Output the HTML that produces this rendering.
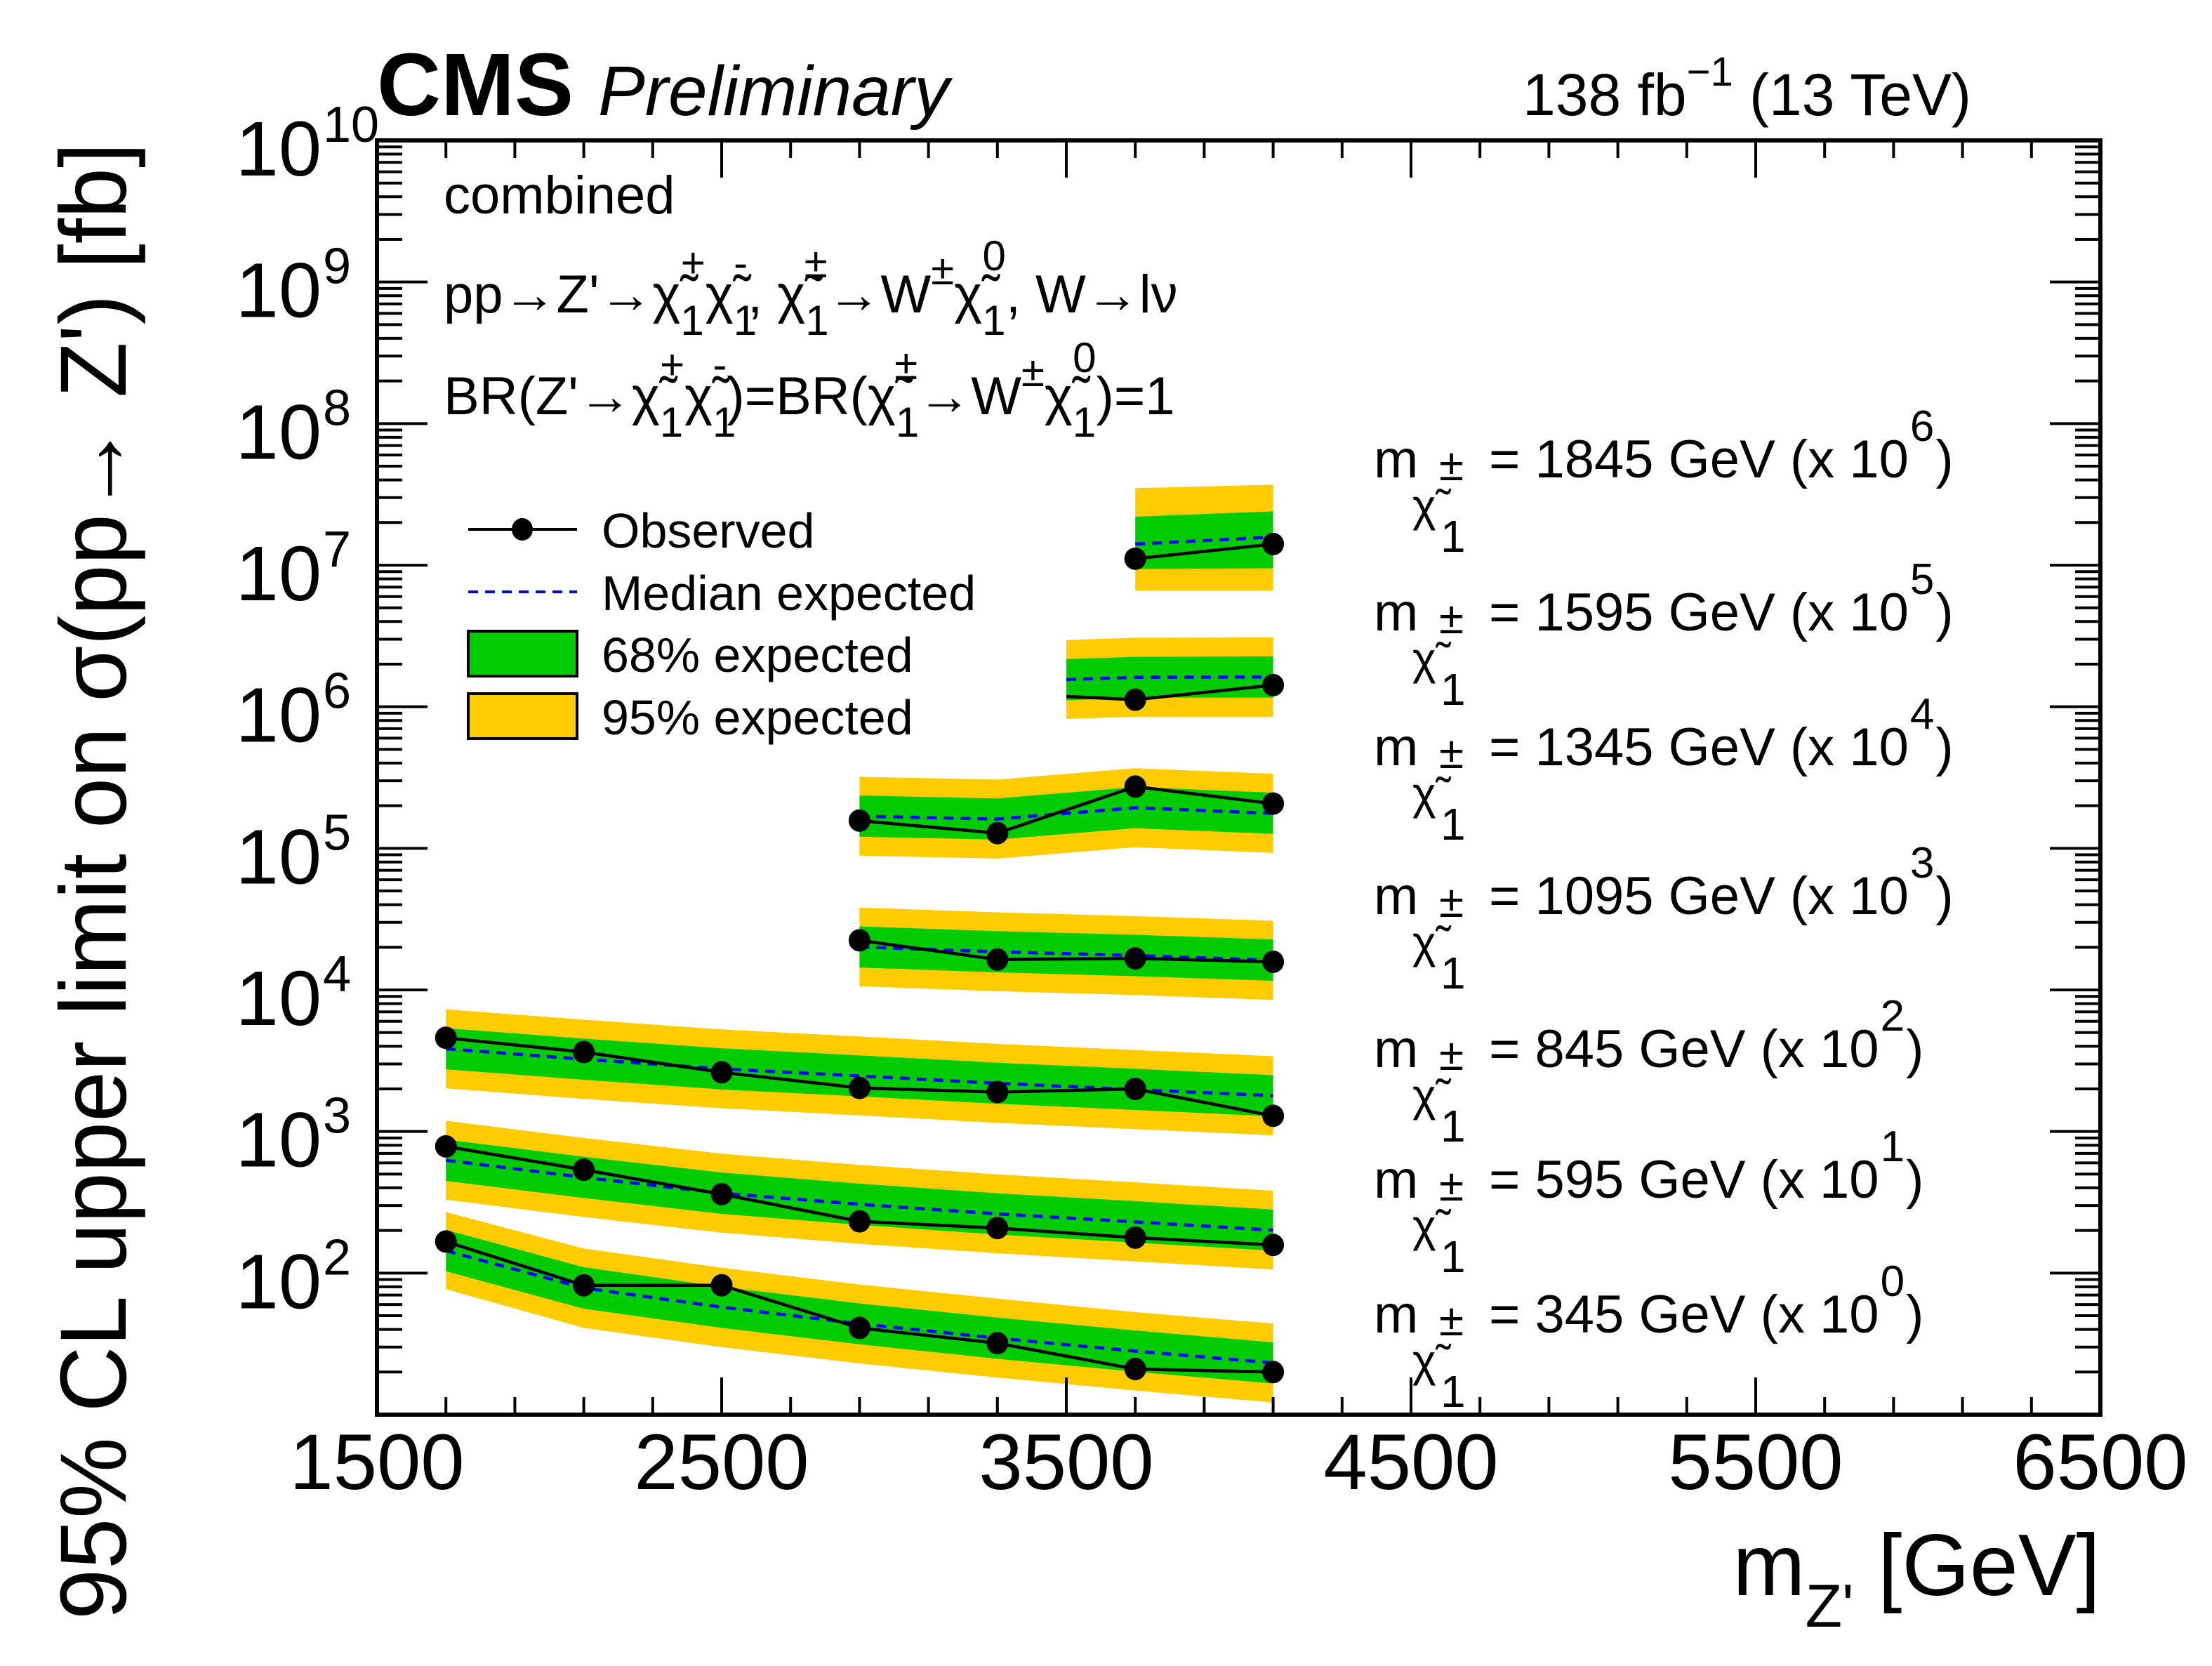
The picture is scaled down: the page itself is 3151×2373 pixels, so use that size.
<!DOCTYPE html>
<html><head><meta charset="utf-8"><style>
html,body{margin:0;padding:0;background:#fff;}
svg{display:block;font-family:"Liberation Sans",Arial,sans-serif;}
</style></head><body>
<svg id="chart" xmlns="http://www.w3.org/2000/svg" width="3151" height="2373" viewBox="0 0 3151 2373">
<rect x="0" y="0" width="3151" height="2373" fill="#fff"/>
<g id="bands"></g>
<g id="lines"></g>
<g id="axes"></g>
<g id="texts" fill="#000">
<text x="537" y="164" font-size="126" font-weight="bold">CMS</text>
<text x="852" y="164" font-size="100" font-style="italic">Preliminary</text>
<text x="2808" y="164" font-size="84" text-anchor="end">138 fb<tspan dy="-42" font-size="58">−1</tspan><tspan dy="42"> (13 TeV)</tspan></text>
<text x="632" y="304" font-size="76">combined</text>
<text x="632" y="445" font-size="76">pp→Z'→χ̃<tspan dy="32" font-size="60">1</tspan><tspan dx="-33" dy="-82" font-size="60">+</tspan><tspan dy="50">χ̃</tspan><tspan dy="32" font-size="60">1</tspan><tspan dx="-33" dy="-82" font-size="60">-</tspan><tspan dy="50">, χ̃</tspan><tspan dy="32" font-size="60">1</tspan><tspan dx="-35" dy="-82" font-size="60">±</tspan><tspan dy="50">→W</tspan><tspan dy="-40" font-size="60">±</tspan><tspan dy="40">χ̃</tspan><tspan dy="32" font-size="60">1</tspan><tspan dx="-33" dy="-92" font-size="60">0</tspan><tspan dy="60">, W→lν</tspan></text>
<text x="632" y="590" font-size="76">BR(Z'→χ̃<tspan dy="32" font-size="60">1</tspan><tspan dx="-33" dy="-82" font-size="60">+</tspan><tspan dy="50">χ̃</tspan><tspan dy="32" font-size="60">1</tspan><tspan dx="-33" dy="-82" font-size="60">-</tspan><tspan dy="50">)=BR(χ̃</tspan><tspan dy="32" font-size="60">1</tspan><tspan dx="-35" dy="-82" font-size="60">±</tspan><tspan dy="50">→W</tspan><tspan dy="-40" font-size="60">±</tspan><tspan dy="40">χ̃</tspan><tspan dy="32" font-size="60">1</tspan><tspan dx="-33" dy="-92" font-size="60">0</tspan><tspan dy="60">)=1</tspan></text>
<g>
<g>
<line x1="667" y1="754" x2="822" y2="754" stroke="#000" stroke-width="4"/>
<ellipse cx="744" cy="754" rx="15" ry="16" fill="#000"/>
<text x="857" y="780" font-size="70">Observed</text></g>
<g>
<line x1="667" y1="843" x2="822" y2="843" stroke="#0000ff" stroke-width="4" stroke-dasharray="14,10"/>
<text x="857" y="869" font-size="70">Median expected</text></g>
<g>
<rect x="667" y="899" width="155" height="64" fill="#00cc00" stroke="#000" stroke-width="4"/>
<text x="857" y="957" font-size="70">68% expected</text></g>
<g>
<rect x="667" y="988" width="155" height="64" fill="#ffcc00" stroke="#000" stroke-width="4"/>
<text x="857" y="1046" font-size="70">95% expected</text></g>
</g>
<text transform="translate(179,2307) rotate(-90)" font-size="134" textLength="2104" lengthAdjust="spacingAndGlyphs">95% CL upper limit on σ(pp→ Z') [fb]</text>
<text x="2992" y="2272" font-size="124" text-anchor="end">m<tspan dy="45" font-size="86">Z'</tspan><tspan dy="-45"> [GeV]</tspan></text>
</g>
<g id="masslabels"></g>
</svg>
<script>
// ---- data ----
const massLabels = ["1845","1595","1345","1095","845","595","345"];
const scaleExp = [6,5,4,3,2,1,0];
const xTickLabels = ["1500","2500","3500","4500","5500","6500"];
const yTickExps = [2,3,4,5,6,7,8,9,10];

const x345 = [1700,2100,2500,2900,3300,3700,4100];
const obs345 = [167,82,82,41,32,21,20];
const exp345 = [144,78.5,57.5,43.9,34.7,28.1,23.2];
const g68hi345 = [202,110,80,61,48.5,39.3,32.4];
const g68lo345 = [103,56,41,31.4,24.8,20.1,16.6];
const y95hi345 = [270,149,109,83,66,53,44];
const y95lo345 = [77,41,30,23,18.3,14.8,12.2];

const x595 = [1700,2100,2500,2900,3300,3700,4100];
const obs595 = [785,537,361,232,208,178,158];
const exp595 = [627,474,367,306,262,230,201];
const g68hi595 = [877,663,513,428,366,322,281];
const g68lo595 = [448,339,262,219,187,164,144];
const y95hi595 = [1190,900,697,581,498,437,382];
const y95lo595 = [330,249,193,161,138,121,106];

const x845 = [1700,2100,2500,2900,3300,3700,4100];
const obs845 = [4590,3640,2620,2030,1900,2000,1290];
const exp845 = [3840,3240,2770,2470,2190,1980,1790];
const g68hi845 = [5370,4530,3870,3450,3060,2770,2500];
const g68lo845 = [2750,2320,1980,1770,1570,1420,1280];
const y95hi845 = [7300,6160,5260,4690,4160,3760,3400];
const y95lo845 = [2020,1700,1460,1300,1150,1040,940];

const x1095 = [2900,3300,3700,4100];
const obs1095 = [22400,16400,16700,15800];
const exp1095 = [20100,18600,17500,16200];
const g68hi1095 = [28100,26000,24500,22700];
const g68lo1095 = [14400,13300,12500,11600];
const y95hi1095 = [38200,35300,33200,30800];
const y95lo1095 = [10600,9800,9200,8500];

const x1345 = [2900,3300,3700,4100];
const obs1345 = [157000,128000,273000,207000];
const exp1345 = [168700,161000,193600,176600];
const g68hi1345 = [236000,225000,271000,247000];
const g68lo1345 = [120800,115300,138700,126500];
const y95hi1345 = [320000,306000,368000,336000];
const y95lo1345 = [88800,84700,101900,92900];

const x1595 = [3500,3700,4100];
const obs1595 = [1183000,1122000,1422000];
const exp1595 = [1556000,1614000,1622000];
const g68hi1595 = [2170000,2250000,2270000];
const g68lo1595 = [1110000,1160000,1160000];
const y95hi1595 = [2960000,3070000,3090000];
const y95lo1595 = [820000,850000,850000];
const mark1595 = [false,true,true];

const x1845 = [3700,4100];
const obs1845 = [11100000,14100000];
const exp1845 = [14100000,15800000];
const g68hi1845 = [22000000,24000000];
const g68lo1845 = [9400000,9500000];
const y95hi1845 = [35000000,37000000];
const y95lo1845 = [6600000,6600000];

// ---- axes ----
const L=537,R=2992,T=200,B=2015;
const XMIN=1500,XMAX=6500,LMIN=1,LMAX=10;
function sx(v){return L+(v-XMIN)/(XMAX-XMIN)*(R-L);}
function sy(v){return B-(Math.log10(v)-LMIN)/(LMAX-LMIN)*(B-T);}
const NS="http://www.w3.org/2000/svg";
function mk(tag,attrs,parent){const e=document.createElementNS(NS,tag);for(const k in attrs)e.setAttribute(k,attrs[k]);parent.appendChild(e);return e;}

const series=[
 {n:"345",x:x345,o:obs345,e:exp345,gh:g68hi345,gl:g68lo345,yh:y95hi345,yl:y95lo345},
 {n:"595",x:x595,o:obs595,e:exp595,gh:g68hi595,gl:g68lo595,yh:y95hi595,yl:y95lo595},
 {n:"845",x:x845,o:obs845,e:exp845,gh:g68hi845,gl:g68lo845,yh:y95hi845,yl:y95lo845},
 {n:"1095",x:x1095,o:obs1095,e:exp1095,gh:g68hi1095,gl:g68lo1095,yh:y95hi1095,yl:y95lo1095},
 {n:"1345",x:x1345,o:obs1345,e:exp1345,gh:g68hi1345,gl:g68lo1345,yh:y95hi1345,yl:y95lo1345},
 {n:"1595",x:x1595,o:obs1595,e:exp1595,gh:g68hi1595,gl:g68lo1595,yh:y95hi1595,yl:y95lo1595,m:mark1595},
 {n:"1845",x:x1845,o:obs1845,e:exp1845,gh:g68hi1845,gl:g68lo1845,yh:y95hi1845,yl:y95lo1845}
];
const gB=document.getElementById('bands'),gL=document.getElementById('lines'),gA=document.getElementById('axes');
function bandPts(xs,hi,lo){let p=[];for(let i=0;i<xs.length;i++)p.push(sx(xs[i])+','+sy(hi[i]));for(let i=xs.length-1;i>=0;i--)p.push(sx(xs[i])+','+sy(lo[i]));return p.join(' ');}
function linePts(xs,v){return xs.map((x,i)=>sx(x)+','+sy(v[i])).join(' ');}
series.forEach(s=>{
 const b95=mk('polygon',{points:bandPts(s.x,s.yh,s.yl),fill:'#ffcc00'},gB);
 
 
 const b68=mk('polygon',{points:bandPts(s.x,s.gh,s.gl),fill:'#00cc00'},gB);
 
 
 const ex=mk('polyline',{points:linePts(s.x,s.e),fill:'none',stroke:'#0000ff','stroke-width':4.5,'stroke-dasharray':'14,10'},gL);
 
 
 const ob=mk('polyline',{points:linePts(s.x,s.o),fill:'none',stroke:'#000','stroke-width':4.5},gL);
 
 
 s.x.forEach((x,i)=>{
  if(s.m && !s.m[i]) return;
  const c=mk('ellipse',{cx:sx(x),cy:sy(s.o[i]),rx:15.5,ry:16,fill:'#000'},gL);
  
  
 });
});
const fr=mk('rect',{x:L,y:T,width:R-L,height:B-T,fill:'none',stroke:'#000','stroke-width':6},gA);


for(let v=XMIN;v<=XMAX;v+=200){
 const major=((v-XMIN)%1000===0);const len=major?53:25;const x=sx(v);
 mk('line',{x1:x,y1:B,x2:x,y2:B-len,stroke:'#000','stroke-width':4},gA);
 mk('line',{x1:x,y1:T,x2:x,y2:T+len,stroke:'#000','stroke-width':4},gA);
}
for(let d=LMIN;d<LMAX;d++){
 for(let m=1;m<=9;m++){
  const v=m*Math.pow(10,d);const y=sy(v);const len=(m===1)?72:36;
  mk('line',{x1:L,y1:y,x2:L+len,y2:y,stroke:'#000','stroke-width':4},gA);
  mk('line',{x1:R,y1:y,x2:R-len,y2:y,stroke:'#000','stroke-width':4},gA);
 }
}
xTickLabels.forEach(t=>{
 const e=mk('text',{x:sx(+t),y:2121,'font-size':112,'text-anchor':'middle'},gA);
 e.textContent=t;
 
 
});
yTickExps.forEach(p=>{
 const y=sy(Math.pow(10,p));
 const e=mk('text',{x:458,y:y+50,'font-size':110,'text-anchor':'end'},gA);
 e.textContent='10';
 
 
 const s=mk('text',{x:460,y:y+2,'font-size':72},gA);
 s.textContent=String(p);
 
 
});
const gM=document.getElementById('masslabels');
const baseY=[680,898,1090,1302,1520,1706,1898];
massLabels.forEach((m,i)=>{
 const y=baseY[i];
 const g=mk('g',{},gM);
 
 
 let t=mk('text',{x:1957,y:y,'font-size':76},g);t.textContent='m';
 t=mk('text',{x:2012,y:y+62,'font-size':64},g);t.textContent='χ̃';
 t=mk('text',{x:2052,y:y+106,'font-size':64},g);t.textContent='1';
 t=mk('text',{x:2050,y:y+4,'font-size':64},g);t.textContent='±';
 t=mk('text',{x:2121,y:y,'font-size':76},g);t.textContent='= '+m+' GeV (x 10';
 const w=t.getComputedTextLength();
 t=mk('text',{x:2121+w+2,y:y-52,'font-size':62},g);t.textContent=String(scaleExp[i]);
 const w2=t.getComputedTextLength();
 t=mk('text',{x:2121+w+w2+4,y:y,'font-size':76},g);t.textContent=')';
});
</script>
</body></html>
